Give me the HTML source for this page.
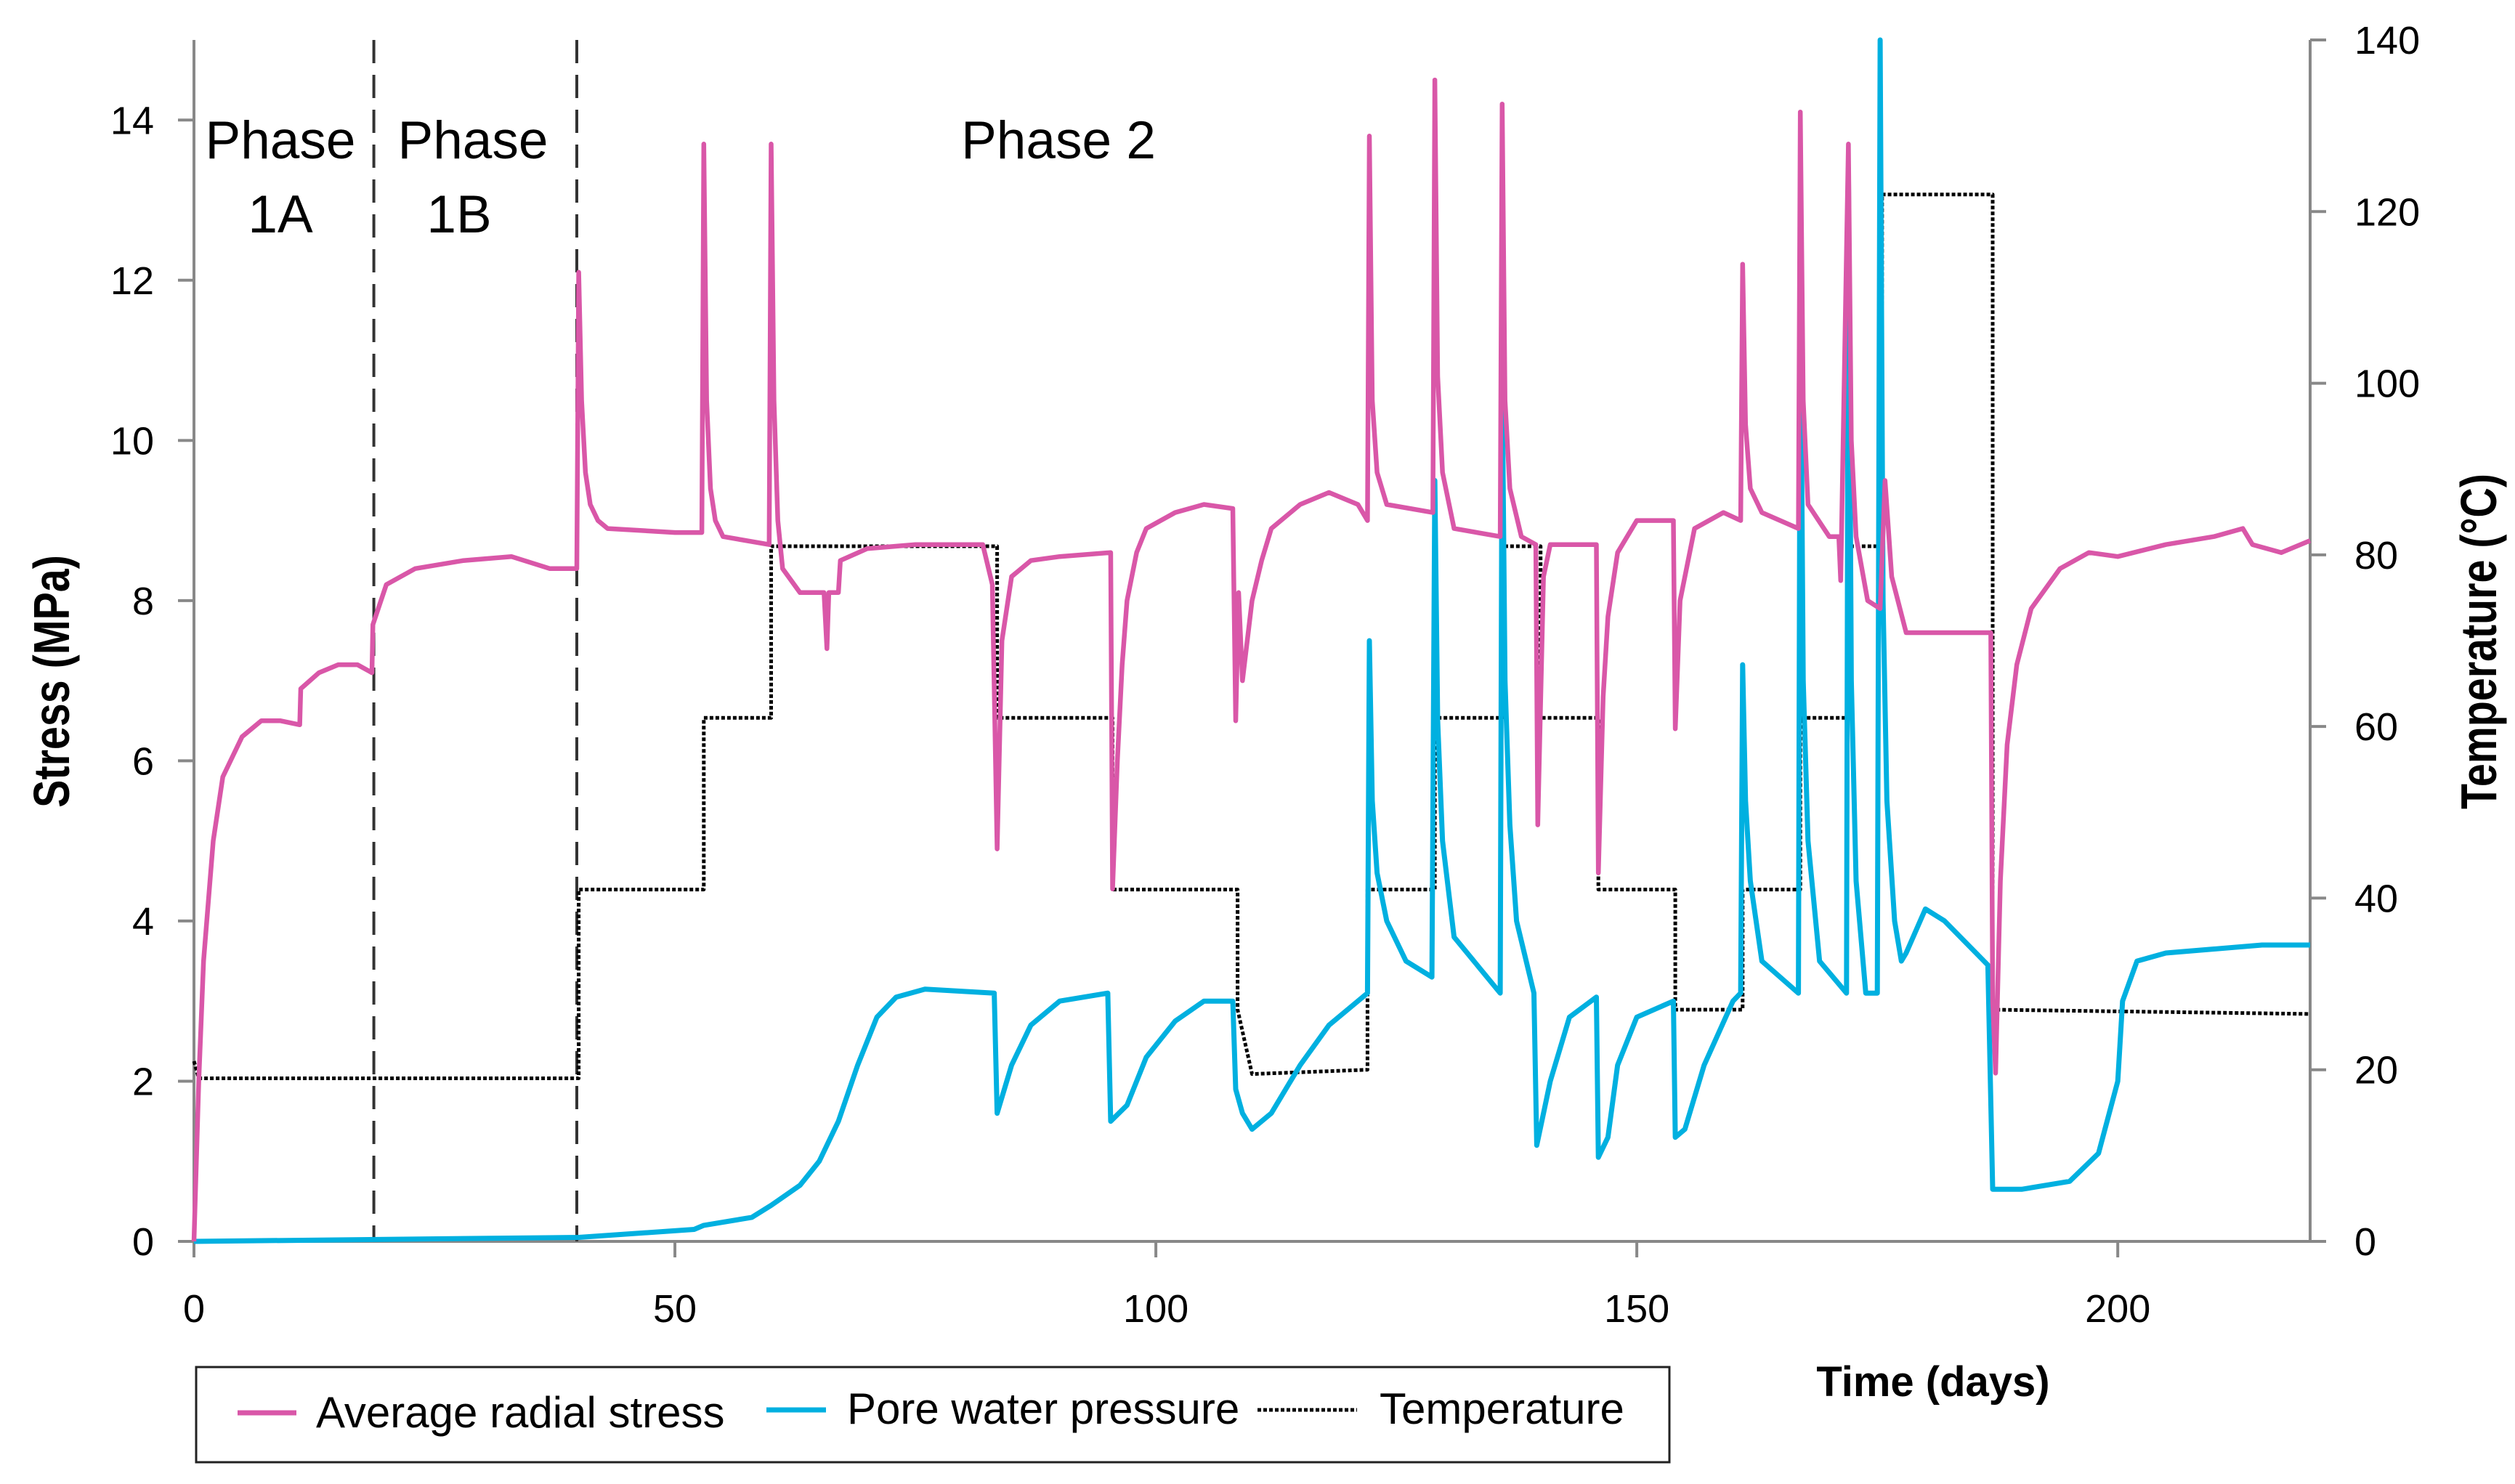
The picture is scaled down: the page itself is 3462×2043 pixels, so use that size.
<!DOCTYPE html>
<html><head><meta charset="utf-8"><style>
html,body{margin:0;padding:0;background:#fff;}
svg{display:block;font-family:"Liberation Sans",sans-serif;}
</style></head><body>
<svg id="chart" width="3462" height="2043" viewBox="0 0 3462 2043" xmlns="http://www.w3.org/2000/svg">
<rect width="3462" height="2043" fill="#fff"/>
<g id="axes"></g>
<g id="series"></g>
<text transform="translate(95,938) rotate(-90) scale(0.82,1)" text-anchor="middle" font-size="70" font-weight="bold" fill="#000">Stress (MPa)</text>
<text transform="translate(3436,883) rotate(-90) scale(0.82,1)" text-anchor="middle" font-size="70" font-weight="bold" fill="#000">Temperature (°C)</text>
<text x="2661" y="1922" text-anchor="middle" font-size="58" font-weight="bold" fill="#000">Time (days)</text>
<g font-size="73" fill="#000" text-anchor="middle">
<text x="386" y="218">Phase</text>
<text x="386" y="320">1A</text>
<text x="651" y="218">Phase</text>
<text x="632" y="320">1B</text>
<text x="1457" y="218">Phase 2</text>
</g>
<g>
<rect x="270" y="1882" width="2028" height="131" fill="#fff" stroke="#222" stroke-width="3"/>
<line x1="327" y1="1945" x2="408" y2="1945" stroke="#D957A8" stroke-width="7"/>
<text x="435" y="1965" font-size="60">Average radial stress</text>
<line x1="1055" y1="1941" x2="1137" y2="1941" stroke="#00B0E0" stroke-width="7"/>
<text x="1166" y="1960" font-size="60">Pore water pressure</text>
<line x1="1731" y1="1941" x2="1868" y2="1941" stroke="#000" stroke-width="5" stroke-dasharray="5,3"/>
<text x="1899" y="1960" font-size="60">Temperature</text>
</g>
</svg>
<script>
const xTicks=[0,50,100,150,200];
const yTicks=[0,2,4,6,8,10,12,14];
const y2Ticks=[0,20,40,60,80,100,120,140];
const phaseBounds=[18.7,39.8];
const tempDays=[0,0.5,40,40,53,53,60,60,83.5,83.5,95.5,95.5,108.5,108.5,110,122,122,129,129,136,136,140,140,146,146,154,154,161,161,167,167,172,172,175.5,175.5,187,187,220];
const tempVals=[21,19,19,41,41,61,61,81,81,61,61,41,41,27,19.5,20,41,41,61,61,81,81,61,61,41,41,27,27,41,41,61,61,81,81,122,122,27,26.5];
const stressDays=[0,0.5,1,2,3,5,7,9,11,11.1,13,15,17,18.5,18.6,20,23,28,33,37,39.8,40,40.3,40.7,41.2,42,43,50,52.8,53,53.3,53.7,54.2,55,59.8,60,60.3,60.7,61.2,63,65.5,65.8,66,67,67.2,70,75,82,83,83.5,84,85,87,90,95.3,95.5,96,96.5,97,98,99,102,105,108,108.3,108.6,109,110,111,112,115,118,121,122,122.2,122.5,123,124,128.8,129,129.3,129.8,131,135.8,136,136.3,136.8,138,139.5,139.7,140.3,141,145.8,146,146.5,147,148,150,153.8,154,154.5,156,159,160.8,161,161.3,161.8,163,166.8,167,167.3,167.8,170,171,171.2,172,172.3,172.8,174,175.3,175.8,176.5,178,186.8,187,187.3,187.8,188.5,189.5,191,194,197,200,205,210,213,214,217,220];
const stressVals=[0,2,3.5,5,5.8,6.3,6.5,6.5,6.45,6.9,7.1,7.2,7.2,7.1,7.7,8.2,8.4,8.5,8.55,8.4,8.4,12.1,10.5,9.6,9.2,9.0,8.9,8.85,8.85,13.7,10.5,9.4,9.0,8.8,8.7,13.7,10.5,9.0,8.4,8.1,8.1,7.4,8.1,8.1,8.5,8.65,8.7,8.7,8.2,4.9,7.5,8.3,8.5,8.55,8.6,4.4,6.0,7.2,8.0,8.6,8.9,9.1,9.2,9.15,6.5,8.1,7,8,8.5,8.9,9.2,9.35,9.2,9.0,13.8,10.5,9.6,9.2,9.1,14.5,10.8,9.6,8.9,8.8,14.2,10.5,9.4,8.8,8.7,5.2,8.3,8.7,8.7,4.6,6.8,7.8,8.6,9,9.0,6.4,8,8.9,9.1,9.0,12.2,10.2,9.4,9.1,8.9,14.1,10.5,9.2,8.8,8.8,8.25,13.7,10,8.8,8,7.9,9.5,8.3,7.6,7.6,3,2.1,4.5,6.2,7.2,7.9,8.4,8.6,8.55,8.7,8.8,8.9,8.7,8.6,8.75];
const pwpDays=[0,40,52,53,58,60,63,65,67,69,71,73,76,83.2,83.5,85,87,90,95,95.3,97,99,102,105,108,108.3,109,110,112,115,118,121.5,122,122.2,122.5,123,124,126,128.7,129,129.3,129.8,131,135.8,136,136.3,136.8,137.5,139.3,139.6,141,143,145.8,146,147,148,150,153.8,154,155,157,160,160.8,161,161.3,161.8,163,166.8,167,167.3,167.8,169,171.8,172,172.3,172.8,173.8,175,175.3,175.6,176,176.8,177.5,178,180,182,186.5,187,190,195,198,200,200.5,202,205,210,215,220];
const pwpVals=[0,0.05,0.15,0.2,0.3,0.45,0.7,1,1.5,2.2,2.8,3.05,3.15,3.1,1.6,2.2,2.7,3.0,3.1,1.5,1.7,2.3,2.75,3.0,3.0,1.9,1.6,1.4,1.6,2.2,2.7,3.05,3.1,7.5,5.5,4.6,4,3.5,3.3,9.5,6.5,5,3.8,3.1,10.8,7,5.2,4,3.1,1.2,2.0,2.8,3.05,1.05,1.3,2.2,2.8,3.0,1.3,1.4,2.2,3.0,3.1,7.2,5.5,4.5,3.5,3.1,12.1,7,5,3.5,3.1,13.4,7,4.5,3.1,3.1,15.5,8,5.5,4,3.5,3.6,4.15,4.0,3.45,0.65,0.65,0.75,1.1,2,3,3.5,3.6,3.65,3.7,3.7];

const X0=267,XR=3180,Y0=1709,YT=55;
const xs=d=>X0+(d/220)*(XR-X0);
const ys=v=>Y0-(v/15)*(Y0-YT);
const ys2=t=>Y0-(t/140)*(Y0-YT);
const NS='http://www.w3.org/2000/svg';
function mk(tag,parent){const e=document.createElementNS(NS,tag);parent.appendChild(e);return e;}
const axes=document.getElementById('axes'), series=document.getElementById('series');
function line(p,x1,y1,x2,y2,c,w){const l=mk('line',p);l.setAttribute('x1',x1);l.setAttribute('y1',y1);l.setAttribute('x2',x2);l.setAttribute('y2',y2);l.setAttribute('stroke',c);l.setAttribute('stroke-width',w);return l;}
let l;
l=line(axes,X0,YT,X0,Y0,'#888',4);


l=line(axes,XR,YT,XR,Y0,'#888',4);


l=line(axes,X0,Y0,XR+20,Y0,'#888',4);


yTicks.forEach(v=>{const y=ys(v);
 const t=line(axes,X0-22,y,X0,y,'#888',4);
 
 
 const tx=mk('text',axes);tx.setAttribute('x',212);tx.setAttribute('y',y+19);tx.setAttribute('text-anchor','end');tx.setAttribute('font-size','54');tx.textContent=v;
 
 
});
y2Ticks.forEach(v=>{const y=ys2(v);
 const t=line(axes,XR,y,XR+22,y,'#888',4);
 
 
 const tx=mk('text',axes);tx.setAttribute('x',3241);tx.setAttribute('y',y+19);tx.setAttribute('font-size','54');tx.textContent=v;
 
 
});
xTicks.forEach(v=>{const x=xs(v);
 const t=line(axes,x,Y0,x,Y0+22,'#888',4);
 
 
 const tx=mk('text',axes);tx.setAttribute('x',x);tx.setAttribute('y',1820);tx.setAttribute('text-anchor','middle');tx.setAttribute('font-size','54');tx.textContent=v;
 
 
});
phaseBounds.forEach(d=>{
 const p=line(axes,xs(d),YT,xs(d),Y0,'#333',4);p.setAttribute('stroke-dasharray','32,16');
 
 
});
function poly(days,vals,yf,color,w,dash,name){
 const p=mk('polyline',series);
 p.setAttribute('points',days.map((d,i)=>xs(d).toFixed(1)+','+Math.max(YT,yf(vals[i])).toFixed(1)).join(' '));
 p.setAttribute('fill','none');p.setAttribute('stroke',color);p.setAttribute('stroke-width',w);p.setAttribute('stroke-linejoin','round');
 if(dash)p.setAttribute('stroke-dasharray',dash);
 
 
}
poly(tempDays,tempVals,ys2,'#000',5,'5,3','temperature-line');
poly(pwpDays,pwpVals,ys,'#00B0E0',7,null,'pore-water-pressure-line');
poly(stressDays,stressVals,ys,'#D957A8',6.5,null,'radial-stress-line');
</script>
</body></html>
